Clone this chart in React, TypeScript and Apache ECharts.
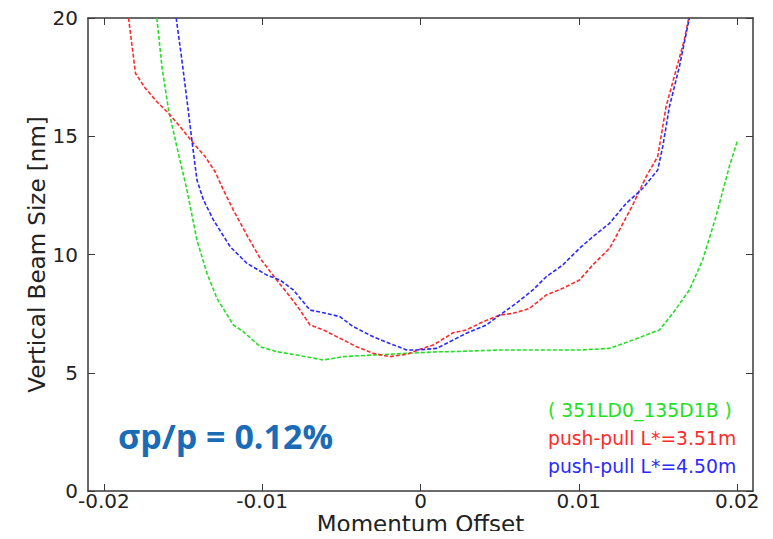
import React, { useEffect, useRef } from "react";
import * as echarts from "echarts";

const xTickValues = [-0.02, -0.01, 0, 0.01, 0.02];
const xTickLabels = ["-0.02", "-0.01", "0", "0.01", "0.02"];

const seriesNames = ["( 351LD0_135D1B )", "push-pull L*=3.51m", "push-pull L*=4.50m"];
const seriesColors = ["#22e022", "#ff2a2a", "#2a2aff"];

const greenData = [
  [-0.01665, 20.0], [-0.01633, 17.94], [-0.01591, 16.11], [-0.01539, 14.56],
  [-0.01475, 12.73], [-0.01412, 10.61], [-0.01349, 9.21], [-0.01286, 8.15],
  [-0.01182, 7.02], [-0.01119, 6.74], [-0.01013, 6.1], [-0.00908, 5.89],
  [-0.00782, 5.75], [-0.00614, 5.54], [-0.00488, 5.68], [-0.00299, 5.75],
  [-0.00088, 5.82], [0.00122, 5.89], [0.00185, 5.89], [0.005, 5.96],
  [0.00815, 5.96], [0.01004, 5.96], [0.01194, 6.03], [0.0134, 6.38],
  [0.01509, 6.81], [0.01593, 7.51], [0.01698, 8.5], [0.01782, 9.77],
  [0.01866, 11.6], [0.0195, 13.71], [0.02003, 14.84],
];

const redData = [
  [-0.01844, 20.0], [-0.018, 17.66], [-0.01738, 17.03], [-0.01665, 16.46],
  [-0.01581, 15.9], [-0.01518, 15.4], [-0.01434, 14.7], [-0.0136, 14.14],
  [-0.01297, 13.5], [-0.01245, 12.73], [-0.01182, 11.88], [-0.01097, 10.82],
  [-0.01013, 9.84], [-0.00908, 8.92], [-0.00824, 8.22], [-0.00761, 7.65],
  [-0.00698, 7.02], [-0.00614, 6.81], [-0.00509, 6.46], [-0.00404, 6.1],
  [-0.00299, 5.82], [-0.00194, 5.68], [-0.00088, 5.78], [0.0, 6.0],
  [0.0008, 6.17], [0.00206, 6.69], [0.0029, 6.81], [0.00395, 7.16],
  [0.005, 7.44], [0.00584, 7.51], [0.00689, 7.72], [0.00794, 8.29],
  [0.00899, 8.57], [0.01004, 8.92], [0.01088, 9.56], [0.01194, 10.26],
  [0.01257, 11.04], [0.0134, 12.09], [0.01425, 13.29], [0.01498, 14.14],
  [0.01551, 16.25], [0.01614, 17.8], [0.01666, 19.07], [0.01694, 20.0],
];

const blueData = [
  [-0.01543, 20.0], [-0.01507, 18.22], [-0.01475, 16.53], [-0.01444, 14.84],
  [-0.01412, 13.15], [-0.01371, 12.31], [-0.01308, 11.46], [-0.01202, 10.33],
  [-0.01097, 9.63], [-0.00971, 9.13], [-0.00887, 8.92], [-0.00803, 8.5],
  [-0.00698, 7.65], [-0.00593, 7.51], [-0.00509, 7.37], [-0.00425, 6.95],
  [-0.00299, 6.52], [-0.00194, 6.24], [-0.00088, 5.96], [-0.00025, 5.96],
  [0.00101, 6.03], [0.00185, 6.31], [0.0029, 6.67], [0.00416, 7.02],
  [0.005, 7.44], [0.00605, 7.94], [0.0071, 8.5], [0.00794, 9.06],
  [0.00899, 9.56], [0.01004, 10.26], [0.01088, 10.75], [0.01194, 11.32],
  [0.01299, 12.16], [0.01404, 12.8], [0.01498, 13.57], [0.0153, 14.56],
  [0.01572, 16.25], [0.01635, 17.94], [0.01698, 20.0],
];

const seriesData = [greenData, redData, blueData];

const annotation = "σp/p = 0.12%";

export default function App() {
  const ref = useRef<HTMLDivElement>(null);

  useEffect(() => {
    if (!ref.current) return;
    const chart = echarts.init(ref.current, null, { renderer: "svg" });
    const axisColor = "#3a3a3a";
    const font = "DejaVu Sans";
    const baseX = {
      type: "value",
      min: -0.021,
      max: 0.021,
      splitLine: { show: false },
      axisLine: { show: true, onZero: false, lineStyle: { color: axisColor, width: 1.5 } },
    };
    const baseY = {
      type: "value",
      min: 0,
      max: 20,
      interval: 5,
      splitLine: { show: false },
      axisLine: { show: true, onZero: false, lineStyle: { color: axisColor, width: 1.5 } },
    };
    chart.setOption({
      animation: false,
      backgroundColor: "#ffffff",
      grid: { left: 88, right: 20, top: 18, bottom: 48, outerBoundsMode: "none", containLabel: false },
      xAxis: [
        {
          ...baseX,
          position: "bottom",
          name: "Momentum Offset",
          nameLocation: "middle",
          nameGap: 21,
          nameMoveOverlap: false,
          nameTextStyle: { fontFamily: font, fontSize: 23, color: "#222" },
          axisTick: { show: true, inside: true, length: 7, customValues: xTickValues, lineStyle: { color: axisColor } },
          axisLabel: {
            show: true,
            customValues: xTickValues,
            margin: 1,
            lineHeight: 17,
            fontFamily: font,
            fontSize: 20,
            color: "#222",
            formatter: (v: number) => {
              const i = xTickValues.findIndex((t) => Math.abs(t - v) < 1e-9);
              return i >= 0 ? xTickLabels[i] : "";
            },
          },
        },
        {
          ...baseX,
          position: "top",
          axisTick: { show: true, inside: true, length: 7, customValues: xTickValues, lineStyle: { color: axisColor } },
          axisLabel: { show: false },
        },
      ],
      yAxis: [
        {
          ...baseY,
          position: "left",
          name: "Vertical Beam Size [nm]",
          nameLocation: "middle",
          nameGap: 40,
          nameMoveOverlap: false,
          nameTextStyle: { fontFamily: font, fontSize: 23, color: "#222" },
          axisTick: { show: true, inside: true, length: 7, lineStyle: { color: axisColor } },
          axisLabel: { show: true, margin: 10, padding: [0, 0, 6, 0], fontFamily: font, fontSize: 20, color: "#222" },
        },
        {
          ...baseY,
          position: "right",
          axisTick: { show: true, inside: true, length: 7, lineStyle: { color: axisColor } },
          axisLabel: { show: false },
        },
      ],
      legend: {
        orient: "vertical",
        left: 543,
        top: 400,
        padding: 0,
        itemWidth: 0,
        itemHeight: 0,
        itemGap: 8,
        icon: "rect",
        selectedMode: false,
        data: seriesNames.map((n, i) => ({
          name: n,
          textStyle: { color: seriesColors[i] },
        })),
        textStyle: { fontFamily: font, fontSize: 18.8, lineHeight: 20 },
      },
      graphic: [
        {
          type: "text",
          left: 118,
          top: 419,
          style: {
            text: annotation,
            fontFamily: "Open Sans",
            fontWeight: "bold",
            fontSize: 34,
            fill: "#1b6cb6",
          },
        },
      ],
      series: seriesData.map((d, i) => ({
        name: seriesNames[i],
        type: "line",
        xAxisIndex: 0,
        yAxisIndex: 0,
        data: d,
        showSymbol: false,
        symbol: "none",
        clip: true,
        lineStyle: { color: seriesColors[i], width: 1.6, type: [4, 2] },
        itemStyle: { color: seriesColors[i] },
      })),
    });
    return () => chart.dispose();
  }, []);

  return <div ref={ref} style={{ width: 773, height: 539, margin: -8 }} />;
}
